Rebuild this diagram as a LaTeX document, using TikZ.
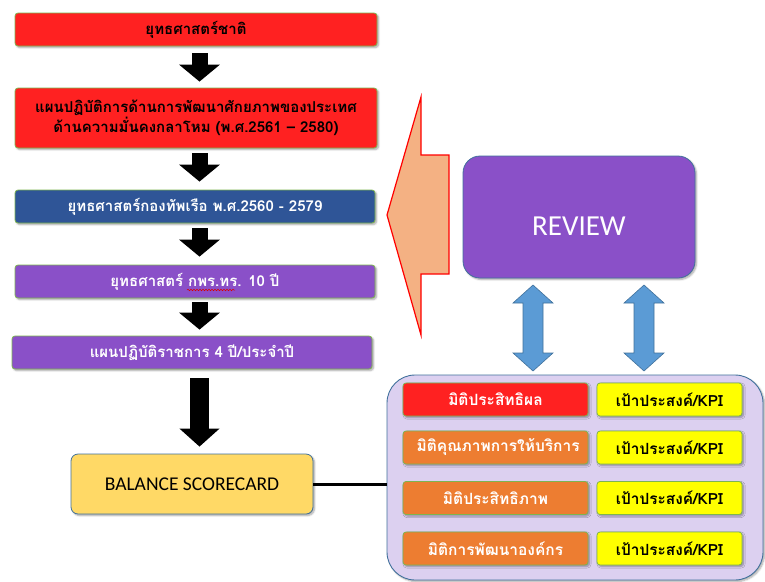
\documentclass[tikz,border=0pt]{standalone}
\usepackage{fontspec}
\usetikzlibrary{arrows.meta,shadows.blur,decorations.pathmorphing}
\newfontfamily\thai[Script=Thai]{Loma}
\newfontfamily\calib{Carlito}

\definecolor{flowred}{HTML}{FF2121}
\definecolor{navyblue}{HTML}{2F5597}
\definecolor{violet}{HTML}{8A50C8}
\definecolor{lavender}{HTML}{DCD0F0}
\definecolor{dimorange}{HTML}{ED7D31}
\definecolor{kpiyellow}{HTML}{FFFF00}
\definecolor{bscyellow}{HTML}{FFD966}
\definecolor{skyblue}{HTML}{5B9BD5}
\definecolor{steel}{HTML}{41719C}
\definecolor{peach}{HTML}{F4B183}
\definecolor{leaf}{HTML}{7DB54F}

\tikzset{
  shade/.style={blur shadow={shadow xshift=1.5pt,shadow yshift=-1.5pt,shadow blur steps=6,shadow opacity=35}},
  flowbox/.style={rectangle,rounded corners=3pt,draw=leaf,line width=0.8pt,
    font=\thai\bfseries\fontsize{15}{20}\selectfont,align=center,inner sep=0pt,shade},
  dimbox/.style={rectangle,rounded corners=3pt,draw=leaf,line width=0.8pt,
    minimum width=185pt,minimum height=33pt,inner sep=0pt,text=white,
    font=\thai\bfseries\fontsize{15.5}{18}\selectfont,shade},
  kpibox/.style={rectangle,rounded corners=3pt,draw=leaf,line width=0.8pt,fill=kpiyellow,
    minimum width=145pt,minimum height=33pt,inner sep=0pt,
    font=\thai\bfseries\fontsize{15.4}{18}\selectfont,shade},
  downarrow/.style={line width=16pt,-{Triangle[width=40pt,length=17pt]},black},
  blockarrow/.style={fill=skyblue,draw=steel,line width=0.6pt,line join=miter}
}

\begin{document}
\begin{tikzpicture}[x=1pt,y=-1pt]
\useasboundingbox (0,0) rectangle (765,581);

% ---- strategy chain (left column) ----
\node[flowbox,fill=flowred,minimum width=362pt,minimum height=33pt] (nat) at (196,29.5)
  {ยุทธศาสตร์ชาติ};
\node[flowbox,fill=flowred,minimum width=362pt,minimum height=60pt] (plan) at (196,118)
  {แผนปฏิบัติการด้านการพัฒนาศักยภาพของประเทศ\\ด้านความมั่นคงกลาโหม (พ.ศ.2561 – 2580)};
\node[flowbox,fill=navyblue,text=white,minimum width=360pt,minimum height=33pt] (navy) at (195,206.5)
  {ยุทธศาสตร์กองทัพเรือ พ.ศ.2560 - 2579};
\node[flowbox,fill=violet,text=white,minimum width=360pt,minimum height=33pt] (ten) at (195,281.5)
  {ยุทธศาสตร์ กพร.ทร. 10 ปี};
\node[flowbox,fill=violet,text=white,minimum width=360pt,minimum height=33pt] (four) at (192,352.5)
  {แผนปฏิบัติราชการ 4 ปี/ประจำปี};

% spell-check squiggle under the abbreviation
\draw[red!85!black,line width=0.5pt,decorate,decoration={snake,amplitude=0.8pt,segment length=3pt}]
  ([xshift=-8pt,yshift=-8.5pt]ten.center) -- ([xshift=40pt,yshift=-8.5pt]ten.center);

\node[rectangle,rounded corners=7pt,draw=steel,line width=0.8pt,fill=bscyellow,
  minimum width=242pt,minimum height=60pt,font=\calib\fontsize{19.5}{22}\selectfont,shade]
  (bsc) at (192,484) {BALANCE SCORECARD};

\draw[downarrow,shorten <=7pt,shorten >=6pt] (nat.south -| 199.5,0) -- (plan.north -| 199.5,0);
\draw[downarrow,shorten <=5pt,shorten >=8pt] (plan.south -| 199.5,0) -- (navy.north -| 199.5,0);
\draw[downarrow,shorten <=5pt,shorten >=8pt] (navy.south -| 199.5,0) -- (ten.north -| 199.5,0);
\draw[downarrow,shorten <=4pt,shorten >=6pt] (ten.south -| 199.5,0) -- (four.north -| 199.5,0);
\draw[line width=19pt,-{Triangle[width=39pt,length=18pt]},shorten <=9pt,shorten >=7pt]
  (four.south -| 199.5,0) -- (bsc.north -| 199.5,0);

% ---- review loop ----
\node[rectangle,rounded corners=17pt,draw=steel,line width=0.8pt,fill=violet,text=white,
  minimum width=232pt,minimum height=122pt,inner sep=0pt,text height=37pt,text depth=0pt,
  font=\calib\fontsize{29}{32}\selectfont,shade]
  (review) at (579,217) {REVIEW};

\draw[fill=peach,draw=red,line width=1.2pt,line join=miter]
  (387,215) -- (421,97) -- (421,155) -- (449,155) -- (449,274) -- (421,274) -- (421,335) -- cycle;

% ---- balanced scorecard panel ----
\node[rectangle,rounded corners=28pt,draw=steel,line width=0.9pt,fill=lavender,
  minimum width=376pt,minimum height=205pt,shade] (panel) at (575,477.5) {};

\node[dimbox,fill=flowred] (d1) at (495.5,399.5) {มิติประสิทธิผล};
\node[dimbox,fill=dimorange] (d2) at (495.5,447.5) {~มิติคุณภาพการให้บริการ};
\node[dimbox,fill=dimorange] (d3) at (495.5,498) {มิติประสิทธิภาพ};
\node[dimbox,fill=dimorange] (d4) at (495.5,548.5) {มิติการพัฒนาองค์กร};

\node[kpibox] (k1) at (669.5,399.5) {เป้าประสงค์/KPI};
\node[kpibox] (k2) at (669.5,447.5) {เป้าประสงค์/KPI};
\node[kpibox] (k3) at (669.5,498) {เป้าประสงค์/KPI};
\node[kpibox] (k4) at (669.5,548.5) {เป้าประสงค์/KPI};

\draw[line width=3pt] (bsc.east) -- (bsc.east -| panel.west);

% two-way links between the review box and the panel
\foreach \cx/\nm in {533/a,644/b}{
  \coordinate (up\nm) at (\cx,285);
  \coordinate (dn\nm) at (\cx,371);
  \draw[blockarrow] (up\nm) -- ++(20,18) -- ++(-10,0) -- (\cx+10,353) -- ++(10,0)
    -- (dn\nm) -- ++(-20,-18) -- ++(10,0) -- (\cx-10,303) -- ++(-10,0) -- cycle;
}
\end{tikzpicture}
\end{document}
